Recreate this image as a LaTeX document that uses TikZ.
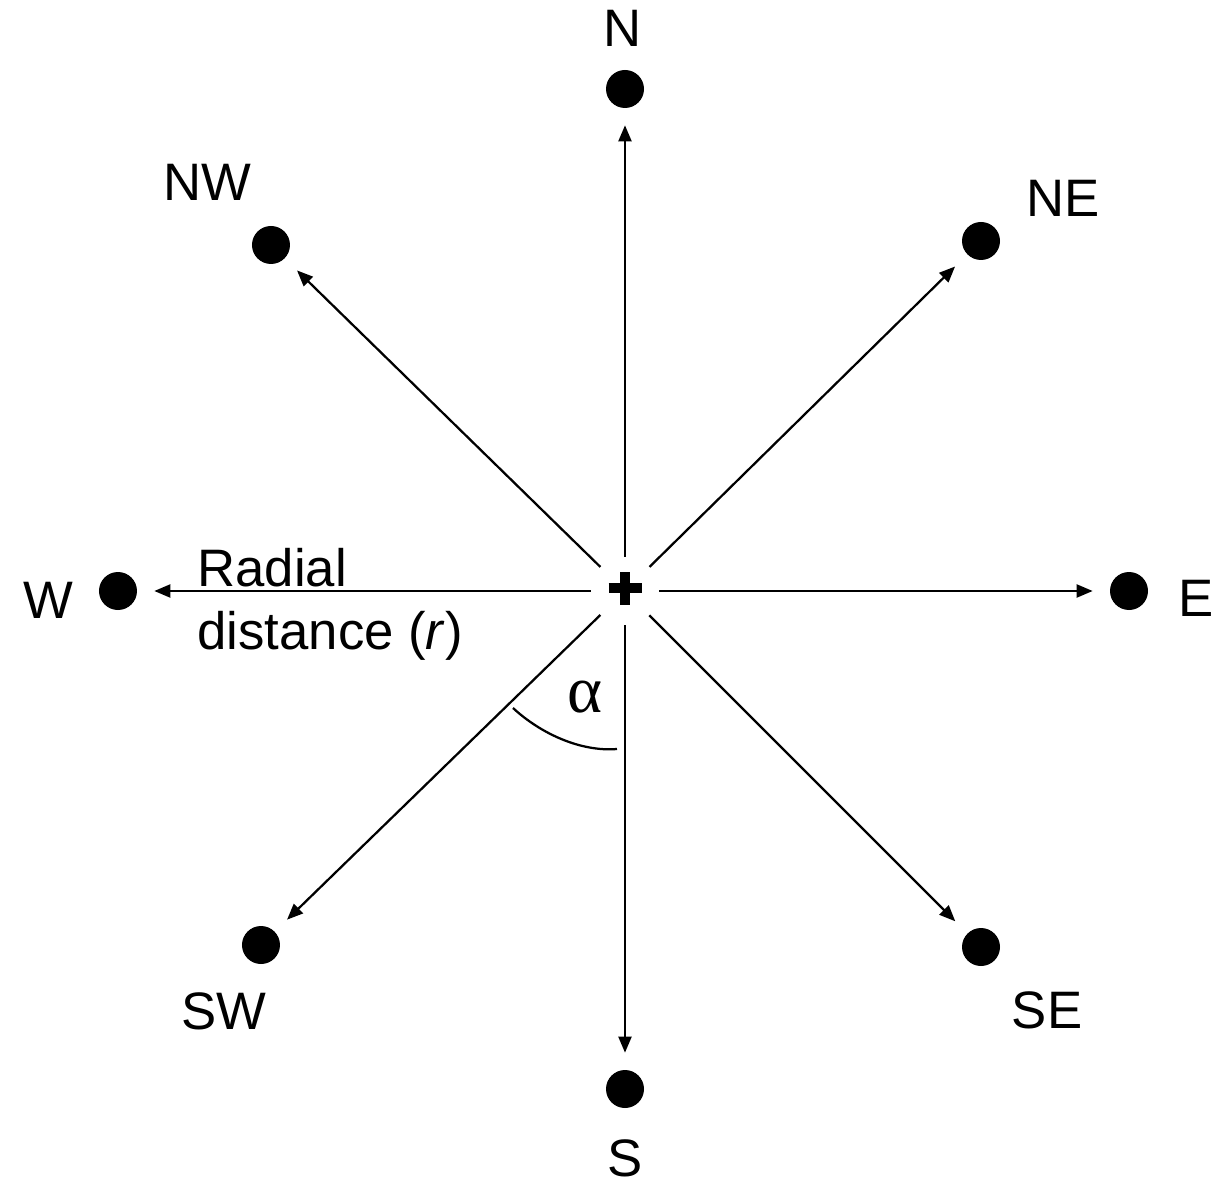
\documentclass[tikz,border=0pt]{standalone}
\usepackage{fontspec}
\setmainfont{Liberation Sans}
\newfontfamily\greekfont{Liberation Serif}
\usepackage{tikz}
\usetikzlibrary{
    arrows.meta,
    positioning
}
\tikzset{
    hub/.style={
        circle, inner sep=0pt, minimum size=1.36cm,
        path picture={
            \draw[line width=0.19cm, shift={(path picture bounding box.center)}]
                (-0.33,0.06) -- (0.33,0.06) (0,-0.27) -- (0,0.39);
        }
    },
    station/.style={
        circle, fill=black, inner sep=0pt, minimum size=0.76cm
    },
    compass label/.style={
        inner sep=0pt, font=\fontsize{30}{36}\selectfont
    },
    radial/.style={
        -{Triangle[length=0.32cm, width=0.26cm]}, line width=0.045cm,
        shorten >=0.34cm
    },
}

\begin{document}
\begin{tikzpicture}

    \useasboundingbox (-12.5,-11.82) rectangle (12.1,11.82);

    % ── Centre ──
    \node[hub] (hub) at (0,0) {};

    % ── Stations ──
    \node[station] (n)  at (0,10.04)      {};
    \node[station] (ne) at (7.12,7.0)     {};
    \node[station] (e)  at (10.08,0)      {};
    \node[station] (se) at (7.12,-7.12)   {};
    \node[station] (s)  at (0,-9.96)      {};
    \node[station] (sw) at (-7.28,-7.08)  {};
    \node[station] (w)  at (-10.14,0)     {};
    \node[station] (nw) at (-7.08,6.92)   {};

    \node[compass label] (nlab)  at (-0.04,11.26) {N};
    \node[compass label] (nelab) at (8.76,7.86)   {NE};
    \node[compass label] (elab)  at (11.42,-0.14) {E};
    \node[compass label] (selab) at (8.44,-8.38)  {SE};
    \node[compass label] (slab)  at (0,-11.34)    {S};
    \node[compass label] (swlab) at (-8.02,-8.40) {SW};
    \node[compass label] (wlab)  at (-11.54,-0.18) {W};
    \node[compass label] (nwlab) at (-8.36,8.18)  {NW};

    % ── Radial arrows ──
    \draw[radial] (hub) -- (n);
    \draw[radial] (hub) -- (ne);
    \draw[radial] (hub) -- (e);
    \draw[radial] (hub) -- (se);
    \draw[radial] (hub) -- (s);
    \draw[radial] (hub) -- (sw);
    \draw[radial] (hub) -- (w);
    \draw[radial] (hub) -- (nw);

    \node[compass label, anchor=north west, align=left] (rlab) at (-8.56,0.86)
        {Radial\\distance (\textit{r})};

    % ── Angle ──
    \draw[line width=0.045cm] (-2.24,-2.34) .. controls (-1.70,-2.84) and (-0.90,-3.22) .. (-0.16,-3.16);
    \node[inner sep=0pt, font=\greekfont\fontsize{38}{44}\selectfont] (alpha) at (-0.8,-2.12) {α};

\end{tikzpicture}
\end{document}
